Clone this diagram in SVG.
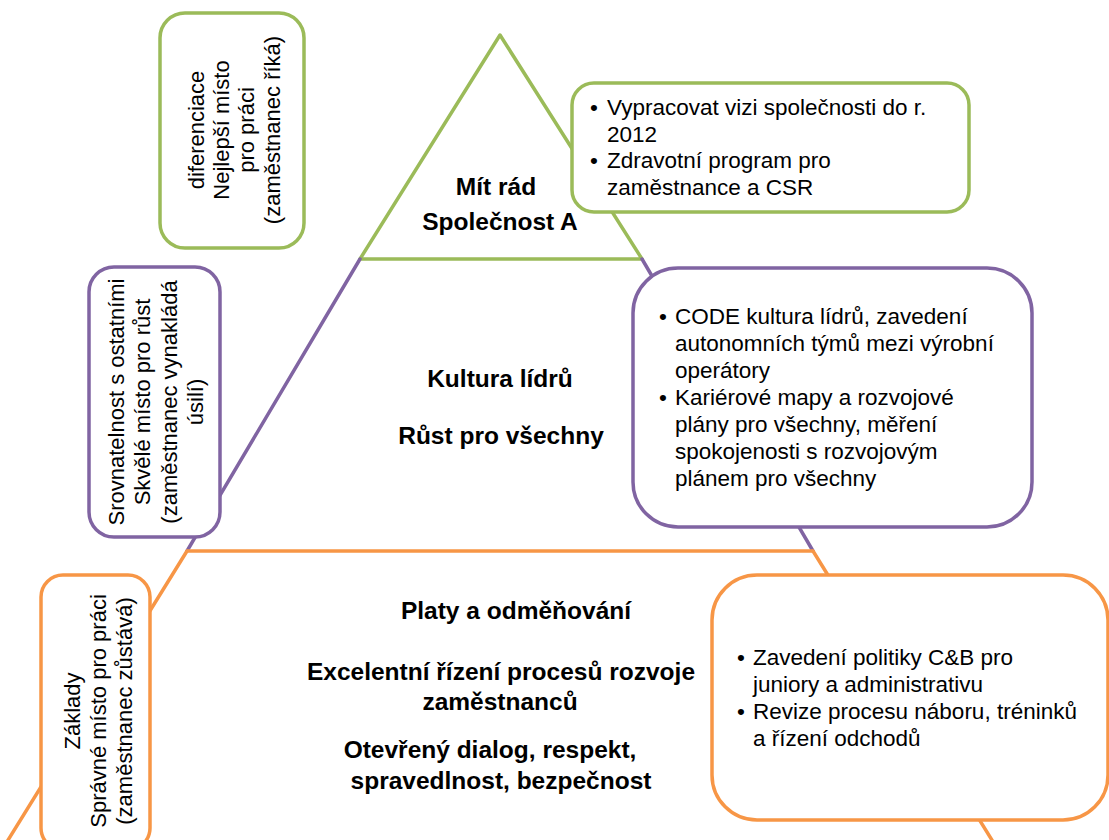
<svg xmlns="http://www.w3.org/2000/svg" width="1109" height="840" viewBox="0 0 1109 840">
  <style>
    .edge { fill: none; stroke-width: 3.5; stroke-linecap: round; stroke-linejoin: round; }
    .box { fill: #ffffff; stroke-width: 3.5; }
    .g { stroke: #9BBB59; }
    .p { stroke: #8064A2; }
    .o { stroke: #F79646; }
    .lvl { font-family: "Liberation Sans", Arial, sans-serif; font-weight: bold; font-size: 24.5px; fill: #000; text-anchor: middle; }
    .note { font-family: "Liberation Sans", Arial, sans-serif; font-size: 22.5px; fill: #000; }
    .side { font-family: "Liberation Sans", Arial, sans-serif; font-size: 22px; fill: #000; text-anchor: middle; }
  </style>

  <rect width="1109" height="840" fill="#ffffff"/>

  <!-- pyramid outline -->
  <g id="connectors">
    <path class="edge g" d="M360 259 L500 35 L642 259 Z"/>
    <path class="edge p" d="M360 259 L187 551 M642 259 L813 551"/>
    <path class="edge o" d="M187 551 L813 551 M187 551 L5 845 M813 551 L995 845"/>
  </g>

  <!-- level labels inside the pyramid -->
  <g id="level-top">
    <text class="lvl" x="496" y="195">Mít rád</text>
    <text class="lvl" x="500" y="230">Společnost A</text>
  </g>
  <g id="level-middle">
    <text class="lvl" x="500" y="387">Kultura lídrů</text>
    <text class="lvl" x="501" y="444">Růst pro všechny</text>
  </g>
  <g id="level-base">
    <text class="lvl" x="516" y="619">Platy a odměňování</text>
    <text class="lvl" x="501" y="680">Excelentní řízení procesů rozvoje</text>
    <text class="lvl" x="500" y="710">zaměstnanců</text>
    <text class="lvl" x="490" y="758">Otevřený dialog, respekt,</text>
    <text class="lvl" x="501" y="789">spravedlnost, bezpečnost</text>
  </g>

  <!-- left side captions -->
  <g id="side-top">
    <rect class="box g" x="160" y="13" width="144" height="235" rx="25"/>
    <text class="side" transform="translate(204 130) rotate(-90)">diferenciace</text>
    <text class="side" transform="translate(229 130) rotate(-90)">Nejlepší místo</text>
    <text class="side" transform="translate(254 130) rotate(-90)">pro práci</text>
    <text class="side" transform="translate(280 130) rotate(-90)">(zaměstnanec říká)</text>
  </g>
  <g id="side-middle">
    <rect class="box p" x="89" y="267" width="131" height="270" rx="25"/>
    <text class="side" transform="translate(124 402) rotate(-90)">Srovnatelnost s ostatními</text>
    <text class="side" transform="translate(150 402) rotate(-90)">Skvělé místo pro růst</text>
    <text class="side" transform="translate(177 402) rotate(-90)">(zaměstnanec vynakládá</text>
    <text class="side" transform="translate(203 402) rotate(-90)">úsilí)</text>
  </g>
  <g id="side-base">
    <rect class="box o" x="41" y="575" width="109" height="275" rx="22"/>
    <text class="side" transform="translate(80 711) rotate(-90)">Základy</text>
    <text class="side" transform="translate(106 711) rotate(-90)">Správné místo pro práci</text>
    <text class="side" transform="translate(132 711) rotate(-90)">(zaměstnanec zůstává)</text>
  </g>

  <!-- right side action lists -->
  <g id="actions-top">
    <rect class="box g" x="572" y="83" width="397" height="129" rx="22"/>
    <text class="note"><tspan x="590" y="115">•</tspan><tspan x="607" y="115">Vypracovat vizi společnosti do r.</tspan><tspan x="607" y="142">2012</tspan><tspan x="590" y="168">•</tspan><tspan x="607" y="168">Zdravotní program pro</tspan><tspan x="607" y="195">zaměstnance a CSR</tspan></text>
  </g>
  <g id="actions-middle">
    <rect class="box p" x="633" y="268" width="399" height="259" rx="45"/>
    <text class="note"><tspan x="659" y="324">•</tspan><tspan x="675" y="324">CODE kultura lídrů, zavedení</tspan><tspan x="675" y="351">autonomních týmů mezi výrobní</tspan><tspan x="675" y="378">operátory</tspan><tspan x="659" y="405">•</tspan><tspan x="675" y="405">Kariérové mapy a rozvojové</tspan><tspan x="675" y="432">plány pro všechny, měření</tspan><tspan x="675" y="459">spokojenosti s rozvojovým</tspan><tspan x="675" y="486">plánem pro všechny</tspan></text>
  </g>
  <g id="actions-base">
    <rect class="box o" x="712" y="575" width="396" height="245" rx="45"/>
    <text class="note"><tspan x="737" y="665">•</tspan><tspan x="753" y="665">Zavedení politiky C&amp;B pro</tspan><tspan x="753" y="692">juniory a administrativu</tspan><tspan x="737" y="719">•</tspan><tspan x="753" y="719">Revize procesu náboru, tréninků</tspan><tspan x="753" y="746">a řízení odchodů</tspan></text>
  </g>
</svg>
